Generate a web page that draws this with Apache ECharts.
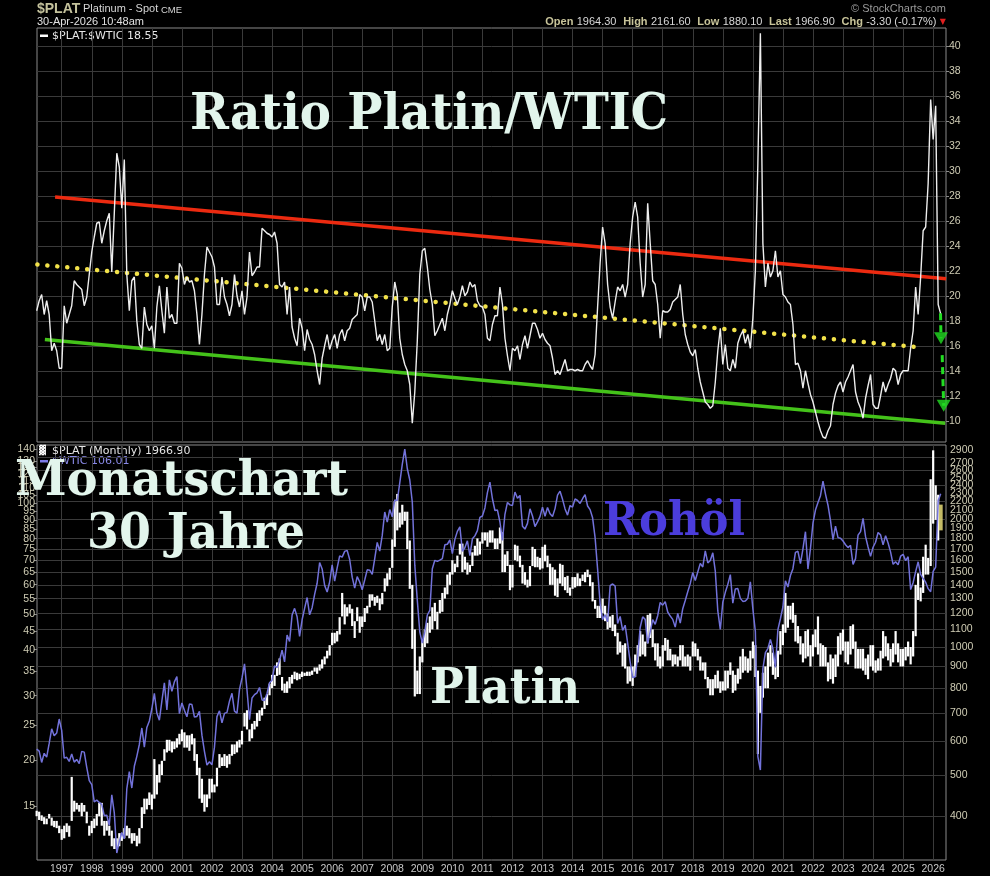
<!DOCTYPE html>
<html>
<head>
<meta charset="utf-8">
<script src="https://cdn.jsdelivr.net/npm/echarts@6/dist/echarts.min.js"></script>
<style>html,body{margin:0;padding:0;background:#000;}#c{width:990px;height:876px;}</style>
</head>
<body>
<div id="c"></div>
<script>
// ---------- DATA (monthly, first value = March 1996, last = April 2026) ----------
const startYear = 1996;
const startMonth = 3;
const yearTicks = [1997,1998,1999,2000,2001,2002,2003,2004,2005,2006,2007,2008,2009,2010,2011,2012,2013,2014,2015,2016,2017,2018,2019,2020,2021,2022,2023,2024,2025,2026];
const ratioTicks = [10,12,14,16,18,20,22,24,26,28,30,32,34,36,38,40];
const wtiTicks = [15,20,25,30,35,40,45,50,55,60,65,70,75,80,85,90,95,100,105,110,115,120,125,130,135,140];
const platTicks = [400,500,600,700,800,900,1000,1100,1200,1300,1400,1500,1600,1700,1800,1900,2000,2100,2200,2300,2400,2500,2600,2700,2800,2900];
const platGrid = [400,500,600,700,800,900,1000,1100,1200,1300,1400,1500,1600,1700,1800,2000,2200,2400,2600,2800];

// Platinum / WTIC ratio (top panel)
const ratioValues = [
 18.8,19.6,20.1,18.5,19.6,18.5,15.6,16.2,15.6,14.2,
 14.2,19.2,17.8,18.5,19.2,21.2,20.9,20.7,20.5,19.2,19.9,21.7,
 23.5,24.7,25.8,25.9,24.2,25.2,26.0,26.6,21.9,26.6,31.4,30.3,
 27.0,30.9,21.7,18.8,21.2,21.5,18.0,16.1,15.8,19.1,17.7,17.2,
 17.6,15.8,19.1,20.8,18.8,17.0,20.7,18.2,18.5,17.8,17.8,22.6,
 22.2,20.9,21.5,21.1,21.2,20.4,18.5,16.1,18.5,21.7,23.9,23.5,
 23.1,22.3,19.3,19.3,21.5,19.9,19.3,18.4,19.3,21.7,20.0,19.1,
 20.4,18.5,19.9,23.5,21.6,21.9,22.3,22.3,25.4,25.2,25.0,24.9,
 24.7,25.1,24.2,20.9,20.7,21.1,18.5,20.7,17.5,16.6,16.0,18.2,
 17.4,15.6,17.3,16.5,16.1,15.3,14.0,12.9,15.0,16.0,16.9,15.7,
 16.4,16.9,15.8,16.9,17.3,16.4,17.2,17.4,18.1,18.3,18.5,20.1,
 19.9,18.8,19.9,19.9,19.5,18.0,16.4,16.9,16.1,16.9,15.6,15.8,
 19.1,21.1,20.1,16.6,15.3,14.5,14.0,12.9,9.8,12.3,16.4,21.7,
 23.6,23.8,22.3,20.5,19.3,16.8,17.2,17.7,18.2,17.2,18.5,19.3,
 20.4,19.8,19.3,19.9,20.8,20.0,20.3,21.1,20.7,20.9,19.6,19.2,
 19.1,18.5,16.6,16.4,17.7,18.4,18.4,20.7,19.3,16.6,15.2,14.0,
 15.8,15.6,16.0,14.9,16.1,16.8,15.8,16.8,17.8,17.8,17.3,16.6,
 17.0,16.5,16.2,16.0,15.0,13.7,14.0,13.7,14.3,14.9,14.0,14.1,
 14.1,14.0,14.1,14.0,14.0,14.5,14.8,14.4,14.1,15.3,19.1,22.6,
 25.5,24.2,20.9,19.1,18.2,19.5,20.7,20.4,20.9,19.9,20.9,24.2,
 26.3,27.5,26.3,22.6,19.9,20.9,27.4,24.2,21.2,20.9,19.3,16.6,
 18.8,18.7,18.7,18.9,19.5,19.7,19.9,20.9,18.5,16.9,16.1,15.5,
 15.2,15.7,14.2,13.1,12.3,11.5,11.3,11.0,11.2,13.1,15.6,17.4,
 14.5,16.1,14.2,14.0,14.9,14.2,16.2,16.8,17.2,16.2,16.9,15.8,
 18.2,22.0,30.6,41.0,24.2,20.7,22.6,21.5,22.0,23.6,21.5,22.0,
 20.1,19.9,19.5,19.3,17.7,14.5,14.6,14.0,12.6,14.0,13.0,12.1,
 11.5,10.7,9.9,9.2,8.7,8.6,9.2,9.6,11.3,12.2,12.8,13.1,
 12.3,13.1,13.5,14.0,14.5,12.3,11.5,11.0,10.2,11.8,12.8,13.7,
 11.3,11.0,11.0,12.0,13.1,12.3,12.9,13.4,14.2,14.0,12.9,13.7,
 14.0,14.0,14.0,15.8,17.2,20.7,18.5,21.5,25.2,25.5,29.0,35.7,
 32.5,35.2,19.3,18.55
];

// WTIC monthly close (left log axis, bottom panel)
const wtiValues = [
 21.47,21.20,19.76,20.92,20.42,22.25,24.38,23.35,23.75,25.92,
 24.15,20.30,20.41,19.89,20.83,19.80,20.14,19.61,21.18,21.08,19.15,17.64,
 17.21,15.44,15.61,15.39,15.20,14.18,14.21,13.34,16.14,14.42,11.22,12.05,
 12.75,12.27,16.76,18.66,16.84,19.29,20.53,22.11,24.51,21.75,24.59,25.60,
 27.64,30.43,26.90,25.74,29.01,32.50,27.43,33.12,30.84,32.70,33.82,26.80,
 28.66,27.39,26.29,28.46,28.37,26.25,26.35,27.20,23.43,21.18,19.44,19.84,
 19.48,21.74,26.31,27.29,25.31,26.86,27.02,28.98,30.45,27.22,26.89,31.20,
 33.51,36.60,31.04,25.80,29.56,30.19,30.54,31.57,29.20,29.11,30.41,32.52,
 33.05,36.16,35.76,37.38,39.88,37.05,43.80,42.12,49.64,51.76,49.13,43.45,
 48.20,51.75,55.40,49.72,51.97,56.50,60.57,68.94,66.24,59.76,57.32,61.04,
 67.92,61.41,66.63,71.88,71.29,73.93,74.40,70.26,62.91,58.73,63.13,61.05,
 58.14,61.79,65.87,65.71,64.01,70.68,78.21,74.04,81.66,94.53,88.71,95.98,
 91.75,101.84,101.58,113.46,127.35,140.00,124.08,115.46,100.64,67.81,54.43,44.60,
 41.68,44.76,49.66,51.12,66.31,69.89,69.45,69.96,70.61,77.00,77.28,79.36,
 72.89,79.66,83.76,86.15,73.97,75.63,78.95,71.92,79.97,81.43,84.11,91.38,
 92.19,96.97,106.72,113.93,102.70,95.42,95.70,88.81,79.20,93.19,100.36,98.83,
 98.48,107.07,103.02,104.87,86.53,84.96,88.06,96.47,92.19,86.24,88.91,91.82,
 97.49,92.05,97.23,93.46,91.97,96.56,105.03,107.65,102.33,96.38,92.72,98.42,
 97.49,102.59,101.58,99.74,102.71,105.37,98.17,95.96,91.16,80.54,66.15,53.27,
 48.24,49.76,47.60,59.63,60.30,59.47,47.12,49.20,45.09,46.59,41.65,37.04,
 33.62,33.75,38.34,45.92,49.10,48.33,41.60,44.70,48.24,46.86,49.44,53.72,
 52.81,54.01,50.60,49.33,48.32,46.04,50.17,47.23,51.67,54.38,57.40,60.42,
 64.73,61.64,64.94,68.57,67.04,74.15,68.76,69.80,73.25,65.31,50.93,45.41,
 53.79,57.22,60.14,63.91,53.50,58.47,58.58,55.10,54.07,54.18,55.17,61.06,
 51.56,44.76,20.48,18.84,35.49,39.27,40.27,42.61,40.22,35.79,45.34,48.52,
 52.20,61.50,59.16,63.58,66.32,73.47,73.95,68.50,75.03,83.57,66.18,75.21,
 88.15,95.72,100.28,104.69,114.67,105.76,98.62,89.55,79.49,86.53,80.55,80.26,
 78.87,77.05,75.67,76.78,68.09,70.64,81.80,83.63,90.79,81.02,75.96,71.65,
 75.85,78.26,83.17,81.93,76.99,81.54,77.91,73.55,68.17,69.26,68.00,71.72,
 72.53,69.76,71.48,58.21,60.79,65.11,69.26,64.01,62.37,60.98,58.55,57.42,
 65.21,67.02,101.50,106.01
];

// Platinum monthly low / high (right log axis, bottom panel)
const platLow = [
 400,392,390,383,383,395,380,377,375,365,
 352,355,367,358,390,410,415,410,400,410,385,360,
 365,375,380,400,380,360,370,360,340,335,335,340,
 350,355,360,355,345,350,340,345,375,405,415,425,
 415,440,450,480,500,540,565,570,565,575,580,590,
 600,580,580,570,590,540,500,440,430,410,420,440,
 455,455,470,520,525,525,520,530,555,560,565,580,
 590,650,640,600,610,640,650,670,690,715,730,770,
 800,810,855,860,790,780,780,800,820,840,835,840,
 850,855,855,855,860,875,865,880,890,910,940,955,
 1010,1020,1030,1070,1180,1130,1180,1200,1120,1050,1150,1080,
 1115,1145,1200,1240,1285,1250,1270,1220,1260,1350,1390,1440,
 1535,1720,1880,1910,1940,1980,1700,1370,990,765,775,775,
 920,1000,1020,1080,1100,1150,1100,1200,1210,1300,1330,1400,
 1480,1500,1540,1650,1500,1520,1480,1500,1550,1640,1640,1650,
 1750,1780,1720,1760,1760,1700,1700,1750,1500,1500,1550,1360,
 1380,1600,1590,1540,1410,1400,1380,1390,1550,1540,1540,1520,
 1530,1590,1540,1400,1400,1320,1310,1410,1390,1360,1340,1320,
 1370,1380,1390,1390,1430,1420,1460,1390,1280,1230,1170,1170,
 1200,1150,1100,1110,1090,1060,960,970,900,890,820,830,
 810,850,920,950,960,950,1020,1050,1000,930,900,890,
 900,980,930,930,900,910,900,930,900,900,900,880,
 950,950,930,880,880,840,800,770,770,800,800,780,
 790,790,800,860,780,790,820,840,870,880,870,880,
 940,850,560,700,760,800,800,900,860,840,850,960,
 1010,1080,1110,1160,1140,1030,1020,960,920,940,950,900,
 950,1000,960,900,900,900,830,840,820,850,900,960,
 980,920,910,960,990,890,890,890,880,860,840,900,
 880,870,880,880,940,950,930,900,920,960,920,900,
 900,930,950,910,950,1060,1290,1280,1340,1480,1480,1550,
 1950,1990,1780,1880.1
];
const platHigh = [
 412,410,402,398,395,405,397,390,390,380,
 373,380,385,380,495,435,430,425,430,425,410,380,
 390,395,405,430,430,390,390,380,370,355,355,365,
 365,375,380,375,365,365,360,375,420,440,440,455,
 450,545,500,530,540,575,605,605,600,600,610,625,
 640,630,620,620,625,610,560,520,490,450,450,490,
 490,475,520,560,550,560,555,560,590,590,600,605,
 635,700,710,640,660,670,700,710,720,760,775,820,
 860,860,920,940,850,820,830,850,860,875,870,865,
 875,870,875,875,880,895,895,910,935,950,980,1010,
 1080,1080,1090,1175,1340,1260,1240,1260,1230,1150,1240,1180,
 1180,1235,1250,1330,1330,1310,1320,1300,1340,1450,1490,1535,
 1790,2200,2290,2070,2160,2080,2080,1780,1400,1100,880,950,
 1040,1100,1140,1180,1240,1270,1210,1290,1340,1380,1480,1500,
 1600,1570,1640,1750,1750,1630,1580,1560,1670,1730,1800,1770,
 1860,1860,1860,1880,1880,1800,1800,1910,1860,1650,1680,1560,
 1560,1740,1730,1640,1560,1500,1440,1550,1720,1700,1630,1620,
 1720,1740,1640,1570,1540,1520,1450,1570,1560,1460,1470,1380,
 1460,1460,1490,1450,1480,1500,1520,1480,1420,1290,1250,1250,
 1300,1250,1200,1180,1190,1130,1080,1030,1010,1020,900,900,
 900,960,1010,1090,1070,1030,1190,1200,1100,1020,1020,950,
 1010,1050,1040,990,960,960,950,1010,1010,950,960,950,
 1030,1020,990,950,920,920,850,840,840,860,880,830,
 830,880,880,920,880,860,890,950,990,950,940,980,
 1030,1010,880,810,870,900,970,1010,970,900,980,1090,
 1130,1340,1250,1250,1270,1190,1120,1060,1020,1090,1100,1010,
 1070,1100,1180,1020,1010,1000,920,960,940,960,1060,1080,
 1100,1030,1030,1120,1130,1030,990,990,990,940,960,1010,
 1010,930,940,980,1090,1060,1020,990,1020,1090,1020,990,
 990,1000,1030,1000,1090,1400,1490,1380,1630,1740,1620,2480,
 2900,2400,2280,2161.6
];

// Drawn annotations in the ratio panel: [decimal year, ratio]
const redTrend = [[1996.78, 27.9], [2026.43, 21.36]];
const greenTrend = [[1996.44, 16.5], [2026.40, 9.8]];
const yellowTrend = [[1996.19, 22.5], [2025.65, 15.85]];
const arrowOne = [[2026.245, 18.6], [2026.26, 16.6]];
const arrowTwo = [[2026.30, 15.25], [2026.35, 11.2]];

// ---------- CHART ----------
const months = ratioValues.map((_, i) => startYear + (startMonth - 1 + i) / 12);
const ratioData = months.map((t, i) => [t, ratioValues[i]]);
const wtiData = months.map((t, i) => [t, wtiValues[i]]);
const platData = months.slice(0, -1).map((t, i) => [t, platLow[i], platHigh[i]]);
const n = months.length - 1;
const platLast = [[months[n], platLow[n], platHigh[n]]];
const arrowHeads = [arrowOne[1], arrowTwo[1]];

const GRID = '#3a3a3a';
const FRAME = '#8a8a8a';
const LABEL = '#cfccb4';
const X_MIN = 1996.178, X_MAX = 2026.427;
const plain = v => String(Math.round(v));

function barRenderer(color, w) {
  return function (params, api) {
    const lo = api.coord([api.value(0), api.value(1)]);
    const hi = api.coord([api.value(0), api.value(2)]);
    return {
      type: 'rect',
      shape: { x: lo[0] - w / 2, y: hi[1], width: w, height: Math.max(1, lo[1] - hi[1]) },
      style: { fill: color }
    };
  };
}

const measureCtx = document.createElement('canvas').getContext('2d');
function bigText(text, left, baseline, width, capH, fill) {
  const size = Math.round(capH / 0.72);
  const font = 'bold ' + size + 'px "DejaVu Serif"';
  measureCtx.font = font;
  const w = measureCtx.measureText(text).width;
  return {
    type: 'text', x: left, y: baseline - 0.30 * size, scaleX: width / w, z: 100,
    style: { text: text, font: font, fill: fill, align: 'left', verticalAlign: 'middle' }
  };
}

const labelBase = { fontSize: 10.5, fontFamily: 'Liberation Sans', color: LABEL, formatter: plain, showMinLabel: true, showMaxLabel: true, hideOverlap: false };

const chart = echarts.init(document.getElementById('c'), null, { width: 990, height: 876 });
chart.setOption({
  backgroundColor: '#000',
  animation: false,
  grid: [
    { left: 37, right: 44, top: 28, height: 414, show: true, borderColor: FRAME, borderWidth: 1, backgroundColor: 'transparent' },
    { left: 37, right: 44, top: 445, height: 415, show: true, borderColor: FRAME, borderWidth: 1, backgroundColor: 'transparent' }
  ],
  xAxis: [
    { gridIndex: 0, type: 'value', min: X_MIN, max: X_MAX,
      axisLine: { show: false }, axisLabel: { show: false },
      axisTick: { show: false, customValues: yearTicks },
      splitLine: { show: true, lineStyle: { color: GRID, width: 1 } } },
    { gridIndex: 1, type: 'value', min: X_MIN, max: X_MAX,
      axisLine: { show: false },
      axisLabel: Object.assign({}, labelBase, { customValues: yearTicks, color: '#c9c9c9', margin: 4 }),
      axisTick: { show: false, customValues: yearTicks },
      splitLine: { show: true, lineStyle: { color: GRID, width: 1 } } }
  ],
  yAxis: [
    { gridIndex: 0, type: 'value', position: 'right', min: 8.30, max: 41.42,
      axisLine: { show: false },
      axisTick: { show: true, customValues: ratioTicks, length: 3, lineStyle: { color: FRAME } },
      axisLabel: Object.assign({}, labelBase, { customValues: ratioTicks, margin: 3 }),
      splitLine: { show: true, lineStyle: { color: GRID, width: 1 } } },
    { gridIndex: 1, type: 'log', position: 'left', min: 10.74, max: 143.7,
      axisLine: { show: false },
      axisTick: { show: true, customValues: wtiTicks, length: 3, lineStyle: { color: FRAME } },
      axisLabel: Object.assign({}, labelBase, { customValues: wtiTicks, margin: 2 }),
      splitLine: { show: false } },
    { gridIndex: 1, type: 'log', position: 'right', min: 315.6, max: 2985,
      axisLine: { show: false },
      axisTick: { show: false, customValues: platGrid },
      axisLabel: Object.assign({}, labelBase, { customValues: platTicks, margin: 4 }),
      splitLine: { show: true, lineStyle: { color: GRID, width: 1 } } }
  ],
  series: [
    { name: 'ratio', type: 'line', xAxisIndex: 0, yAxisIndex: 0, data: ratioData, showSymbol: false, z: 5,
      lineStyle: { color: '#eeeeee', width: 1.4 } },
    { name: 'red', type: 'line', xAxisIndex: 0, yAxisIndex: 0, data: redTrend, showSymbol: false, clip: false, z: 4,
      lineStyle: { color: '#ec2a10', width: 3.5 } },
    { name: 'green', type: 'line', xAxisIndex: 0, yAxisIndex: 0, data: greenTrend, showSymbol: false, clip: false, z: 4,
      lineStyle: { color: '#44c21a', width: 3.5 } },
    { name: 'yellow', type: 'line', xAxisIndex: 0, yAxisIndex: 0, data: yellowTrend, showSymbol: false, clip: false, z: 4,
      lineStyle: { color: '#f2e24a', width: 4.5, type: [0.1, 9.9], cap: 'round' } },
    { name: 'arrow1', type: 'line', xAxisIndex: 0, yAxisIndex: 0, data: arrowOne, showSymbol: false, clip: false, z: 6,
      lineStyle: { color: '#22dd22', width: 3, type: [7, 5] } },
    { name: 'arrow2', type: 'line', xAxisIndex: 0, yAxisIndex: 0, data: arrowTwo, showSymbol: false, clip: false, z: 6,
      lineStyle: { color: '#22dd22', width: 3, type: [7, 5] } },
    { name: 'arrowHeads', type: 'scatter', xAxisIndex: 0, yAxisIndex: 0, data: arrowHeads, clip: false, z: 7,
      symbol: 'triangle', symbolRotate: 180, symbolSize: [14, 12], itemStyle: { color: '#22dd22' } },
    { name: 'platin', type: 'custom', xAxisIndex: 1, yAxisIndex: 2, data: platData, z: 3,
      encode: { x: 0, y: [1, 2] }, renderItem: barRenderer('#ffffff', 2.2) },
    { name: 'platinLast', type: 'custom', xAxisIndex: 1, yAxisIndex: 2, data: platLast, z: 3, clip: false,
      encode: { x: 0, y: [1, 2] }, renderItem: barRenderer('rgba(230,220,120,0.85)', 4) },
    { name: 'wtic', type: 'line', xAxisIndex: 1, yAxisIndex: 1, data: wtiData, showSymbol: false, z: 4,
      lineStyle: { color: '#7272da', width: 1.5 } }
  ],
  graphic: [
    { type: 'text', x: 37, y: 9, style: { text: '$PLAT', font: 'bold 14px "Liberation Sans"', fill: '#c4c29c', verticalAlign: 'middle' } },
    { type: 'text', x: 83, y: 9, style: { text: 'Platinum - Spot', font: '11px "Liberation Sans"', fill: '#d6d6d6', verticalAlign: 'middle' } },
    { type: 'text', x: 161, y: 10, style: { text: 'CME', font: '9.5px "Liberation Sans"', fill: '#d6d6d6', verticalAlign: 'middle' } },
    { type: 'text', x: 37, y: 22, style: { text: '30-Apr-2026 10:48am', font: '11px "Liberation Sans"', fill: '#e2e2e2', verticalAlign: 'middle' } },
    { type: 'text', x: 946, y: 9, style: { text: '© StockCharts.com', font: '11px "Liberation Sans"', fill: '#9a9a9a', align: 'right', verticalAlign: 'middle' } },
    { type: 'text', x: 946, y: 22, style: {
        text: '{b|Open} {v|1964.30}  {b|High} {v|2161.60}  {b|Low} {v|1880.10}  {b|Last} {v|1966.90}  {b|Chg} {v|-3.30 (-0.17%)} {r|▼}',
        align: 'right', verticalAlign: 'middle',
        rich: {
          b: { font: 'bold 11px "Liberation Sans"', fill: '#c8c49a' },
          v: { font: '11px "Liberation Sans"', fill: '#d8d8d8' },
          r: { font: '8px "DejaVu Sans"', fill: '#e02020' }
        } } },
    { type: 'rect', shape: { x: 40, y: 34.5, width: 8, height: 2.5 }, style: { fill: '#ffffff' } },
    { type: 'text', x: 52, y: 36, style: { text: '$PLAT:$WTIC 18.55', font: '11px "DejaVu Sans"', fill: '#e6e6e6', verticalAlign: 'middle' } },
    { type: 'text', x: 39, y: 451, style: { text: '\u2593', font: '9px "DejaVu Sans"', fill: '#ffffff', verticalAlign: 'middle' } },
    { type: 'text', x: 52, y: 451, style: { text: '$PLAT (Monthly) 1966.90', font: '11px "DejaVu Sans"', fill: '#e6e6e6', verticalAlign: 'middle' } },
    { type: 'rect', shape: { x: 40, y: 460, width: 8, height: 2.5 }, style: { fill: '#7a7ae6' } },
    { type: 'text', x: 52, y: 461.5, style: { text: '$WTIC 106.01', font: '11px "DejaVu Sans"', fill: '#8a8ae8', verticalAlign: 'middle' } },
    bigText('Ratio Platin/WTIC', 190, 131, 478, 36, '#e2f5ec'),
    bigText('Monatschart', 15, 497, 333, 35, '#e2f5ec'),
    bigText('30 Jahre', 87, 550, 218, 35, '#e2f5ec'),
    bigText('Platin', 430, 705, 150, 35, '#e2f5ec'),
    bigText('Rohöl', 603, 537, 142, 33, '#4b3ddc')
  ]
});
</script>
</body>
</html>
